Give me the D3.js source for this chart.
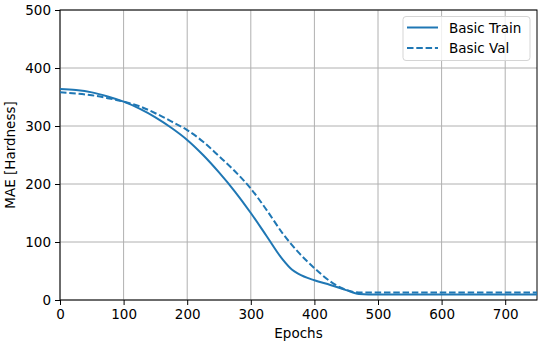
<!DOCTYPE html>
<html>
<head>
<meta charset="utf-8">
<script src="https://cdn.jsdelivr.net/npm/d3@7"></script>
<style>
  body { margin: 0; background: #fff; }
  svg text { font-family: "DejaVu Sans", sans-serif; fill: #000; }
</style>
</head>
<body>
<div id="chart"></div>
<script>
// epochs and MAE values
const trainEpochs = [0, 25, 50, 75, 100, 125, 150, 175, 200, 225, 250, 275, 300, 325, 350, 365, 375, 400, 425, 450, 470, 500, 600, 750];
const trainMae = [364, 362, 358, 351, 342, 330, 315, 297, 276, 250, 220, 187, 150, 110, 70, 52, 45, 34, 26, 17, 10.5, 9.5, 9.5, 9.5];
const valEpochs = [0, 25, 50, 75, 100, 125, 150, 175, 200, 225, 250, 275, 300, 325, 350, 375, 400, 425, 440, 450, 470, 500, 600, 750];
const valMae = [358, 356, 353, 348, 342, 334, 322, 308, 293, 273, 248, 222, 192, 155, 115, 82, 55, 32, 22, 17.5, 13, 13, 13, 13];
const xTicks = [0, 100, 200, 300, 400, 500, 600, 700];
const yTicks = [0, 100, 200, 300, 400, 500];
const seriesNames = ['Basic Train', 'Basic Val'];

const width = 550, height = 347;
const margin = {top: 10, right: 13, bottom: 47, left: 60};
const color = '#1f77b4';
const fontSize = '13.5px';

const svg = d3.select('#chart')
    .append('svg')
    .attr('width', width)
    .attr('height', height);

const x = d3.scaleLinear()
    .domain([0, 750])
    .range([margin.left, width - margin.right]);

const y = d3.scaleLinear()
    .domain([0, 500])
    .range([height - margin.bottom, margin.top]);

// grid
svg.append('g')
    .selectAll('line')
    .data(xTicks)
    .enter()
    .append('line')
    .attr('x1', d => x(d)).attr('x2', d => x(d))
    .attr('y1', y(0)).attr('y2', y(500))
    .attr('stroke', '#b0b0b0')
    .attr('stroke-width', 1);

svg.append('g')
    .selectAll('line')
    .data(yTicks)
    .enter()
    .append('line')
    .attr('x1', x(0)).attr('x2', x(750))
    .attr('y1', d => y(d)).attr('y2', d => y(d))
    .attr('stroke', '#b0b0b0')
    .attr('stroke-width', 1);

// axes
const xAxis = svg.append('g')
    .attr('transform', 'translate(0,' + y(0) + ')')
    .call(d3.axisBottom(x).tickValues(xTicks).tickSize(5).tickPadding(4));

const yAxis = svg.append('g')
    .attr('transform', 'translate(' + x(0) + ',0)')
    .call(d3.axisLeft(y).tickValues(yTicks).tickSize(5).tickPadding(4));

[xAxis, yAxis].forEach(function(a) {
    a.select('.domain').remove();
    a.selectAll('text').style('font-size', fontSize).style('font-family', '"DejaVu Sans", sans-serif');
    a.selectAll('line').attr('stroke', '#000').attr('stroke-width', 1);
});

// frame
svg.append('rect')
    .attr('x', x(0))
    .attr('y', y(500))
    .attr('width', x(750) - x(0))
    .attr('height', y(0) - y(500))
    .attr('fill', 'none')
    .attr('stroke', '#000')
    .attr('stroke-width', 1);

// lines
const line = d3.line()
    .x(d => x(d[0]))
    .y(d => y(d[1]))
    .curve(d3.curveMonotoneX);

svg.append('path')
    .datum(trainEpochs.map((e, i) => [e, trainMae[i]]))
    .attr('d', line)
    .attr('fill', 'none')
    .attr('stroke', color)
    .attr('stroke-width', 2);

svg.append('path')
    .datum(valEpochs.map((e, i) => [e, valMae[i]]))
    .attr('d', line)
    .attr('fill', 'none')
    .attr('stroke', color)
    .attr('stroke-width', 2)
    .attr('stroke-dasharray', '6.5,2.8');

// axis labels
svg.append('text')
    .attr('x', (x(0) + x(750)) / 2)
    .attr('y', 338)
    .attr('text-anchor', 'middle')
    .style('font-size', fontSize)
    .text('Epochs');

svg.append('text')
    .attr('transform', 'translate(15,' + (y(0) + y(500)) / 2 + ')rotate(-90)')
    .attr('text-anchor', 'middle')
    .style('font-size', fontSize)
    .text('MAE [Hardness]');

// legend
const legend = svg.append('g');

legend.append('rect')
    .attr('x', 403)
    .attr('y', 16.5)
    .attr('width', 127)
    .attr('height', 44)
    .attr('rx', 3)
    .attr('fill', '#fff')
    .attr('fill-opacity', 0.8)
    .attr('stroke', '#d5d5d5')
    .attr('stroke-width', 1);

seriesNames.forEach(function(name, i) {
    const ly = 27.5 + i * 20.5;
    legend.append('line')
        .attr('x1', 407).attr('x2', 438)
        .attr('y1', ly).attr('y2', ly)
        .attr('stroke', color)
        .attr('stroke-width', 2)
        .attr('stroke-dasharray', i === 1 ? '6.5,2.8' : null);
    legend.append('text')
        .attr('x', 449)
        .attr('y', ly + 5)
        .style('font-size', fontSize)
        .text(name);
});
</script>
</body>
</html>
